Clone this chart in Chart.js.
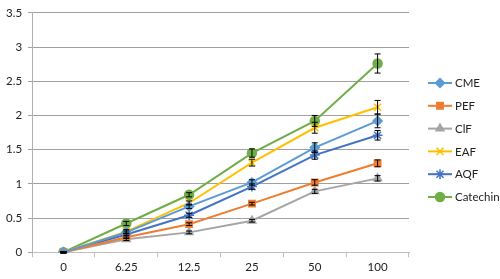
<!DOCTYPE html>
<html>
<head>
<meta charset="utf-8">
<script src="https://cdn.jsdelivr.net/npm/chart.js@4"></script>
<style>
  html, body { margin: 0; padding: 0; background: #fff; }
  #wrap { width: 500px; height: 279px; }
</style>
</head>
<body>
<div id="wrap"><canvas id="chart" width="500" height="279"></canvas></div>
<script>
// categories (concentration)
const labels = ['0', '6.25', '12.5', '25', '50', '100'];
const yTicks = [0, 0.5, 1, 1.5, 2, 2.5, 3, 3.5];

// series values
const cme = [0, 0.29, 0.67, 1.02, 1.53, 1.92];
const pef = [0, 0.22, 0.41, 0.71, 1.02, 1.30];
const clf = [0, 0.19, 0.29, 0.46, 0.89, 1.08];
const eaf = [0, 0.30, 0.72, 1.31, 1.82, 2.12];
const aqf = [0, 0.26, 0.54, 0.96, 1.42, 1.71];
const catechin = [0, 0.42, 0.84, 1.45, 1.92, 2.76];

// error bars (+/-)
const cmeErr = [0.01, 0.02, 0.03, 0.04, 0.07, 0.10];
const pefErr = [0.01, 0.02, 0.02, 0.02, 0.04, 0.05];
const clfErr = [0.01, 0.02, 0.02, 0.02, 0.03, 0.04];
const eafErr = [0.01, 0.03, 0.03, 0.05, 0.08, 0.10];
const aqfErr = [0.01, 0.02, 0.03, 0.04, 0.06, 0.07];
const catechinErr = [0.01, 0.03, 0.03, 0.06, 0.08, 0.14];

const FONT = 'Lato, "Liberation Sans", sans-serif';

function series(label, data, err, color, style, radius) {
    return {
        label: label,
        data: data,
        errors: err,
        borderColor: color,
        backgroundColor: color,
        pointBackgroundColor: color,
        pointBorderColor: color,
        pointStyle: style,
        pointRadius: radius,
        pointBorderWidth: 1.5,
        borderWidth: 2,
        tension: 0
    };
}

// error bars drawn through the y scale
const errorBars = {
    id: 'errorBars',
    afterDatasetsDraw(chart) {
        const ctx = chart.ctx;
        const y = chart.scales.y;
        ctx.save();
        ctx.strokeStyle = '#000';
        ctx.lineWidth = 1;
        chart.data.datasets.forEach((ds, i) => {
            const meta = chart.getDatasetMeta(i);
            meta.data.forEach((pt, j) => {
                const e = ds.errors[j];
                const top = y.getPixelForValue(ds.data[j] + e);
                const bot = y.getPixelForValue(ds.data[j] - e);
                ctx.beginPath();
                ctx.moveTo(pt.x, top); ctx.lineTo(pt.x, bot);
                ctx.moveTo(pt.x - 3, top); ctx.lineTo(pt.x + 3, top);
                ctx.moveTo(pt.x - 3, bot); ctx.lineTo(pt.x + 3, bot);
                ctx.stroke();
            });
        });
        ctx.restore();
    }
};

// legend on the right: line + marker + text
const sideLegend = {
    id: 'sideLegend',
    afterDraw(chart) {
        const ctx = chart.ctx;
        const x0 = 428, x1 = 452, y0 = 83, step = 22.8;
        ctx.save();
        ctx.font = '11.5px ' + FONT;
        ctx.textBaseline = 'middle';
        chart.data.datasets.forEach((ds, i) => {
            const yy = y0 + i * step;
            ctx.strokeStyle = ds.borderColor;
            ctx.lineWidth = 2;
            ctx.beginPath();
            ctx.moveTo(x0, yy); ctx.lineTo(x1, yy);
            ctx.stroke();
            ctx.fillStyle = ds.borderColor;
            ctx.lineWidth = 1.5;
            Chart.helpers.drawPoint(ctx, {
                pointStyle: ds.pointStyle, radius: ds.pointRadius, rotation: 0, borderWidth: 1.5
            }, (x0 + x1) / 2, yy);
            ctx.fillStyle = '#222';
            ctx.fillText(ds.label, x1 + 3, yy + 0.5);
        });
        ctx.restore();
    }
};

new Chart(document.getElementById('chart').getContext('2d'), {
    type: 'line',
    data: {
        labels: labels,
        datasets: [
            series('CME', cme, cmeErr, '#5B9BD5', 'rectRot', 4.5),
            series('PEF', pef, pefErr, '#ED7D31', 'rect', 4.5),
            series('ClF', clf, clfErr, '#A5A5A5', 'triangle', 4.5),
            series('EAF', eaf, eafErr, '#FFC000', 'crossRot', 5),
            series('AQF', aqf, aqfErr, '#4472C4', 'star', 5),
            series('Catechin', catechin, catechinErr, '#70AD47', 'circle', 4.5)
        ]
    },
    options: {
        responsive: false,
        animation: false,
        layout: { padding: { left: 0, right: 91, top: -6, bottom: 2 } },
        plugins: {
            legend: { display: false },
            tooltip: { enabled: false }
        },
        scales: {
            x: {
                offset: true,
                grid: { drawOnChartArea: false, drawTicks: true, tickLength: 5, color: '#bfbfbf', offset: true },
                border: { color: '#bfbfbf' },
                ticks: { color: '#222', font: { family: FONT, size: 11.5 }, padding: 3 }
            },
            y: {
                min: 0,
                max: 3.5,
                afterBuildTicks(axis) { axis.ticks = yTicks.map(v => ({ value: v })); },
                grid: { color: '#a0a0a0', drawTicks: true, tickLength: 4 },
                border: { color: '#b0b0b0' },
                ticks: {
                    color: '#222', font: { family: FONT, size: 11.5 }, padding: 6,
                    callback: v => String(v)
                }
            }
        }
    },
    plugins: [errorBars, sideLegend]
});
</script>
</body>
</html>
